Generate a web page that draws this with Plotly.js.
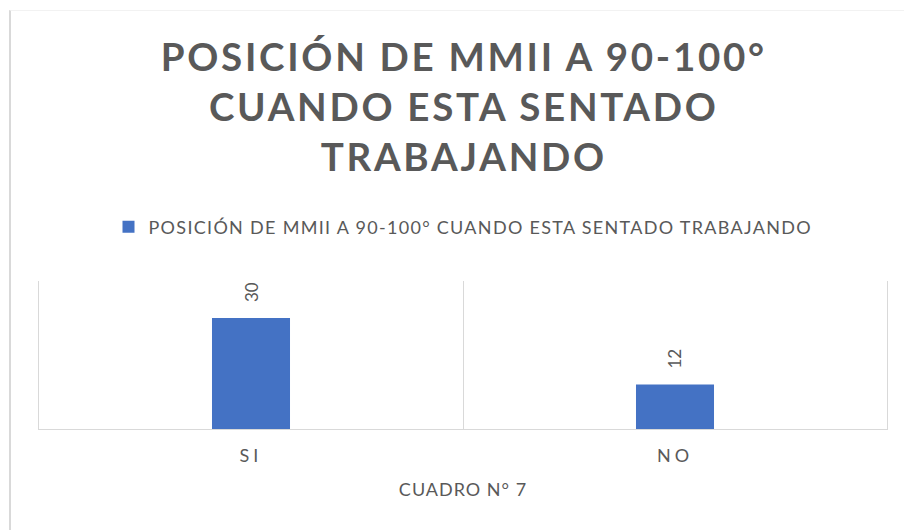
<!DOCTYPE html>
<html>
<head>
<meta charset="utf-8">
<script src="https://cdn.plot.ly/plotly-3.0.1.min.js"></script>
<style>
  html, body { margin: 0; padding: 0; background: #fff; }
  #frame { position: absolute; left: 9px; top: 10px; width: 1000px; height: 1000px;
           border-left: 2px solid #d9d9d9; border-top: 1px solid #f2f2f2; pointer-events: none; }
  #chart { position: absolute; left: 0; top: 0; width: 904px; height: 530px; }
  .gtitle { letter-spacing: 2.7px; }
  .xtick text { letter-spacing: 4px; }
  .legendtext { letter-spacing: 1.3px; }
  .xtitle { letter-spacing: 1px; }
</style>
</head>
<body>
<div id="chart"></div>
<div id="frame"></div>
<script>
const categories = ["SI", "NO"];
const values = [30, 12];
const seriesName = "POSICIÓN DE MMII A 90-100° CUANDO ESTA SENTADO TRABAJANDO";
const chartTitle = "POSICIÓN DE MMII A 90-100°<br>CUANDO ESTA SENTADO<br>TRABAJANDO";
const xTitle = "CUADRO N° 7";

const trace = {
  type: "bar",
  x: categories,
  y: values,
  name: seriesName,
  marker: { color: "#4472C4" },
  showlegend: true
};

const labelAnnotations = categories.map((c, i) => ({
  x: c, y: values[i], xref: "x", yref: "y",
  text: String(values[i]),
  textangle: -90,
  showarrow: false,
  xanchor: "center", yanchor: "bottom",
  yshift: 14,
  font: { family: "Lato, sans-serif", size: 17, color: "#595959" }
}));

const layout = {
  width: 904, height: 530,
  margin: { l: 39, r: 17, t: 281, b: 101 },
  paper_bgcolor: "#ffffff",
  plot_bgcolor: "#ffffff",
  font: { family: "Lato, sans-serif", color: "#595959" },
  title: {
    text: chartTitle,
    font: { family: "Lato, sans-serif", size: 38.5, color: "#595959", weight: "bold" },
    x: 0.513, xanchor: "center",
    yref: "container", y: 0.866, yanchor: "top"
  },
  bargap: 0.816,
  showlegend: true,
  legend: {
    orientation: "h", x: 0.5, xanchor: "center", y: 1.365, yanchor: "middle",
    font: { family: "Lato, sans-serif", size: 18, color: "#595959" },
    itemwidth: 30
  },
  annotations: labelAnnotations,
  xaxis: {
    type: "category",
    tickson: "boundaries",
    showgrid: true, gridcolor: "#d9d9d9", gridwidth: 1,
    showline: true, linecolor: "#d9d9d9", linewidth: 1,
    ticks: "",
    ticklabelstandoff: 10,
    tickfont: { family: "Lato, sans-serif", size: 18, color: "#595959" },
    title: { text: xTitle, font: { family: "Lato, sans-serif", size: 18, color: "#595959" }, standoff: 18 },
    zeroline: false
  },
  yaxis: {
    range: [0, 40],
    showgrid: false, showticklabels: false, zeroline: false,
    showline: true, linecolor: "#d9d9d9", linewidth: 1, mirror: true, ticks: ""
  }
};

Plotly.newPlot("chart", [trace], layout, { staticPlot: true, displayModeBar: false });
</script>
</body>
</html>
